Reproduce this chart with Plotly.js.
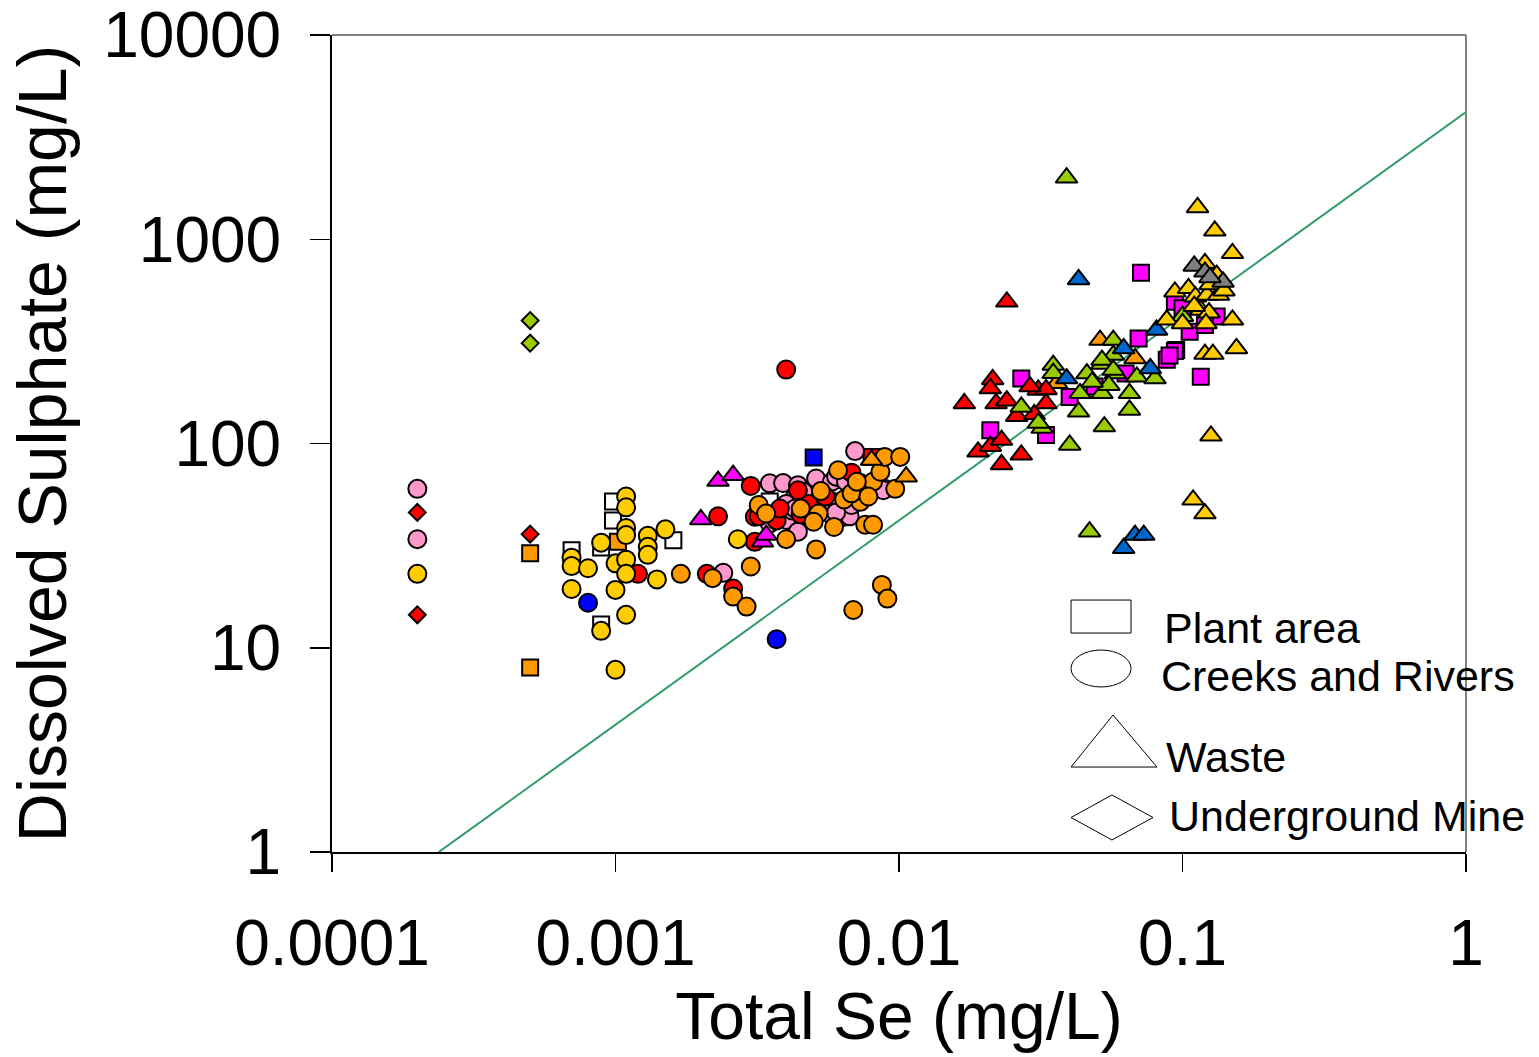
<!DOCTYPE html>
<html><head><meta charset="utf-8">
<script src="https://cdn.plot.ly/plotly-3.0.1.min.js"></script>
<style>html,body{margin:0;padding:0;background:#fff}</style>
</head><body><div id="chart" style="width:1539px;height:1057px"></div>
<script>
// ---- Axis ticks ----
const xTickVals = [0.0001, 0.001, 0.01, 0.1, 1];
const xTickText = ["0.0001", "0.001", "0.01", "0.1", "1"];
const yTickVals = [1, 10, 100, 1000, 10000];
const yTickText = ["1", "10", "100", "1000", "10000"];

// ---- Reference line ----
const refLineX = [0.000238, 1];
const refLineY = [1, 4200];

// ---- Plant area (squares) ----
const plantWhiteX = [0.0007, 0.00098, 0.00098, 0.00089, 0.0016, 0.00089, 0.0035];
const plantWhiteY = [30, 52, 42, 31, 33.6, 13, 52];
const plantOrangeX = [0.0005, 0.0005, 0.00102];
const plantOrangeY = [29, 8, 33];
const plantBlueX = [0.005];
const plantBlueY = [85.5];
const plantRedX = [0.008];
const plantRedY = [86];
const plantMagentaX = [0.0714, 0.07, 0.095, 0.094, 0.132, 0.106, 0.116, 0.094, 0.088, 0.033, 0.027, 0.021, 0.04, 0.063, 0.049, 0.1, 0.12, 0.09];
const plantMagentaY = [686, 327, 287, 494, 418, 352, 212, 284, 257, 110, 208, 116, 169, 220, 190, 460, 380, 270];

// ---- Creeks and Rivers (circles) ----
const creekPinkX = [0.0002, 0.0002, 0.0024, 0.0035, 0.0039, 0.0044, 0.0051, 0.0043, 0.004, 0.004, 0.0035, 0.0044, 0.0058, 0.0064, 0.0067, 0.0064, 0.0057, 0.0057, 0.0089, 0.0067, 0.007, 0.0068, 0.0046, 0.0042, 0.0075, 0.006, 0.0065, 0.0088, 0.0058, 0.006, 0.0043];
const creekPinkY = [60, 34, 23.3, 63.8, 64, 62.5, 67.4, 55, 50.6, 42.2, 40.6, 37, 65, 67, 54.8, 43.8, 45.4, 49, 60, 44, 91.8, 50, 58, 47, 60, 68.8, 65, 59, 52, 46, 48];
const creekRedX = [0.004, 0.003, 0.0023, 0.0031, 0.0031, 0.0012, 0.0021, 0.0026, 0.0048, 0.0044, 0.0037, 0.0068, 0.0045, 0.0032, 0.0038, 0.0055];
const creekRedY = [230, 62, 44, 33, 43.8, 23, 23, 19.5, 50.6, 59, 42, 72, 45, 44, 48, 55];
const creekYellowX = [0.0002, 0.00109, 0.00109, 0.00109, 0.00109, 0.0013, 0.0013, 0.0013, 0.0015, 0.00089, 0.0007, 0.0007, 0.0008, 0.001, 0.00109, 0.00109, 0.0014, 0.0007, 0.001, 0.00109, 0.00089, 0.001, 0.0027];
const creekYellowY = [23, 55, 48.7, 38.6, 35.6, 35.3, 31.2, 28.5, 38, 32.7, 27.6, 25.1, 24.5, 25.9, 27, 23, 21.6, 19.4, 19.2, 14.5, 12.1, 7.8, 34];
const creekOrangeX = [0.0061, 0.0073, 0.0081, 0.0086, 0.0097, 0.0053, 0.0073, 0.0064, 0.0052, 0.0059, 0.005, 0.0076, 0.0081, 0.0032, 0.0034, 0.004, 0.0051, 0.003, 0.0017, 0.0022, 0.0026, 0.0029, 0.0069, 0.0087, 0.0091, 0.0089, 0.0101, 0.0045, 0.0068, 0.0078, 0.0071];
const creekOrangeY = [74, 64, 65, 72.7, 60, 58.5, 51.8, 53.2, 45.4, 39, 41.4, 40, 40, 50, 45.4, 34, 30.3, 25, 23, 21.9, 17.8, 15.9, 15.3, 20.3, 17.4, 86, 86, 48, 57, 55, 65];
const creekBlueX = [0.0008, 0.0037];
const creekBlueY = [16.6, 11];

// ---- Waste (triangles) ----
const wasteMagentaX = [0.0023, 0.0026, 0.002, 0.0033, 0.0034];
const wasteMagentaY = [65.5, 70, 42.5, 33, 35.6];
const wasteOrangeX = [0.008, 0.0106, 0.0512, 0.068, 0.036];
const wasteOrangeY = [83, 68.8, 321, 261, 197];
const wasteRedX = [0.024, 0.017, 0.0214, 0.021, 0.022, 0.024, 0.026, 0.030, 0.031, 0.033, 0.033, 0.019, 0.021, 0.023, 0.023, 0.027, 0.029];
const wasteRedY = [494, 157, 206, 186, 157, 162, 136, 139, 183, 184, 157, 91, 97, 104, 79, 88, 190];
const wasteGreenX = [0.039, 0.047, 0.04, 0.053, 0.032, 0.027, 0.031, 0.035, 0.035, 0.0435, 0.043, 0.046, 0.052, 0.052, 0.058, 0.057, 0.057, 0.052, 0.057, 0.055, 0.069, 0.08, 0.065, 0.065, 0.048, 0.1];
const wasteGreenY = [2000, 37, 98.4, 121, 119, 151, 126, 242, 221, 176, 143, 220, 176, 245, 220, 321, 271, 256, 229, 193, 212, 208, 176, 146, 200, 420];
const wasteBlueX = [0.043, 0.081, 0.062, 0.068, 0.073, 0.039, 0.062, 0.077];
const wasteBlueY = [636, 360, 30.7, 35.6, 35.6, 208, 292, 233];
const wasteYellowX = [0.113, 0.13, 0.15, 0.12, 0.132, 0.094, 0.105, 0.111, 0.122, 0.134, 0.116, 0.124, 0.15, 0.088, 0.1, 0.121, 0.155, 0.12, 0.128, 0.126, 0.109, 0.12, 0.125, 0.14, 0.11];
const wasteYellowY = [1432, 1100, 853, 762, 668, 553, 575, 523, 533, 533, 450, 437, 403, 403, 387, 387, 292, 274, 274, 109, 53, 45.4, 600, 560, 470];
const wasteGrayX = [0.11, 0.12, 0.139, 0.125];
const wasteGrayY = [740, 693, 618, 650];

// ---- Underground Mine (diamonds) ----
const mineRedX = [0.0002, 0.0002, 0.0005];
const mineRedY = [46, 14.5, 36];
const mineGreenX = [0.0005, 0.0005];
const mineGreenY = [400, 310];

// ---- Legend labels ----
const legendLabels = ["Plant area", "Creeks and Rivers", "Waste", "Underground Mine"];

const FONT = "Liberation Sans, Arial, sans-serif";

function pts(x, y, symbol, color, size) {
  return {
    type: "scatter", mode: "markers", x: x, y: y, showlegend: false, hoverinfo: "x+y",
    cliponaxis: false,
    marker: { symbol: symbol, color: color, size: size, line: { color: "#000", width: 2 } }
  };
}

const SQ = 16, CI = 18, TR = 19, DI = 13;
const traces = [
  { type: "scatter", mode: "lines", x: refLineX, y: refLineY, showlegend: false,
    line: { color: "#2E9B68", width: 2 }, hoverinfo: "skip" },
  pts(plantWhiteX, plantWhiteY, "square", "#FFFFFF", SQ),
  pts(plantOrangeX, plantOrangeY, "square", "#FF9900", SQ),
  pts(plantBlueX, plantBlueY, "square", "#0000FF", SQ),
  pts(plantRedX, plantRedY, "square", "#FF0000", SQ),
  pts(plantMagentaX, plantMagentaY, "square", "#FF00FF", SQ),
  pts(creekPinkX, creekPinkY, "circle", "#FF99CC", CI),
  pts(creekRedX, creekRedY, "circle", "#FF0000", CI),
  pts(creekYellowX, creekYellowY, "circle", "#FFCC00", CI),
  pts(creekOrangeX, creekOrangeY, "circle", "#FF9900", CI),
  pts(creekBlueX, creekBlueY, "circle", "#0000FF", CI),
  pts(wasteMagentaX, wasteMagentaY, "triangle-up", "#FF00FF", TR),
  pts(wasteOrangeX, wasteOrangeY, "triangle-up", "#FF9900", TR),
  pts(wasteRedX, wasteRedY, "triangle-up", "#FF0000", TR),
  pts(wasteGreenX, wasteGreenY, "triangle-up", "#99CC00", TR),
  pts(wasteBlueX, wasteBlueY, "triangle-up", "#0066CC", TR),
  pts(wasteYellowX, wasteYellowY, "triangle-up", "#FFCC00", TR),
  pts(wasteGrayX, wasteGrayY, "triangle-up", "#808080", TR),
  pts(mineRedX, mineRedY, "diamond", "#FF0000", DI),
  pts(mineGreenX, mineGreenY, "diamond", "#99CC00", DI)
];

const legendShapes = [
  { type: "rect", xref: "paper", yref: "paper", x0: 0.6517, x1: 0.7046, y0: 0.268, y1: 0.3084, line: { color: "#000", width: 1 }, fillcolor: "rgba(0,0,0,0)" },
  { type: "circle", xref: "paper", yref: "paper", x0: 0.6517, x1: 0.7046, y0: 0.202, y1: 0.2472, line: { color: "#000", width: 1 }, fillcolor: "rgba(0,0,0,0)" },
  { type: "path", xref: "paper", yref: "paper", path: "M 0.6517 0.104 L 0.6887 0.1677 L 0.7275 0.104 Z", line: { color: "#000", width: 1 } },
  { type: "path", xref: "paper", yref: "paper", path: "M 0.6517 0.0422 L 0.6878 0.0698 L 0.7240 0.0422 L 0.6878 0.0147 Z", line: { color: "#000", width: 1 } },
  { type: "line", xref: "paper", yref: "paper", x0: 0, x1: 1, y0: 1, y1: 1, line: { color: "#808080", width: 2 } },
  { type: "line", xref: "paper", yref: "paper", x0: 1, x1: 1, y0: 0, y1: 1, line: { color: "#808080", width: 2 }, layer: "above" }
];

const legendPos = [[0.732, 0.2742], [0.7293, 0.2154], [0.7337, 0.1163], [0.7364, 0.0441]];
const annotations = legendLabels.map((t, i) => ({
  text: t, xref: "paper", yref: "paper", x: legendPos[i][0], y: legendPos[i][1],
  xanchor: "left", yanchor: "middle", showarrow: false,
  font: { family: FONT, size: 43, color: "#000" }
}));

const layout = {
  width: 1539, height: 1057,
  margin: { l: 332, r: 73, t: 35, b: 205 },
  paper_bgcolor: "#fff", plot_bgcolor: "#fff",
  font: { family: FONT, color: "#000" },
  xaxis: {
    type: "log", range: [-4, 0], tickmode: "array", tickvals: xTickVals, ticktext: xTickText,
    showgrid: false, zeroline: false, showline: true, linecolor: "#000", linewidth: 2,
    ticks: "outside", ticklen: 18, tickwidth: 1.5, tickcolor: "#000",
    tickfont: { family: FONT, size: 64, color: "#000" }, ticklabelstandoff: 16,
    ticklabeloverflow: "allow",
    title: { text: "Total Se (mg/L)", font: { family: FONT, size: 66, color: "#000" }, standoff: 14 }
  },
  yaxis: {
    type: "log", range: [0, 4], tickmode: "array", tickvals: yTickVals, ticktext: yTickText,
    showgrid: false, zeroline: false, showline: true, linecolor: "#000", linewidth: 2,
    ticks: "outside", ticklen: 20, tickwidth: 1.5, tickcolor: "#000",
    tickfont: { family: FONT, size: 64, color: "#000" }, ticklabelstandoff: 16,
    ticklabeloverflow: "allow",
    title: { text: "Dissolved Sulphate (mg/L)", font: { family: FONT, size: 68, color: "#000" }, standoff: 14 }
  },
  shapes: legendShapes,
  annotations: annotations,
  showlegend: false
};

Plotly.newPlot("chart", traces, layout, { displayModeBar: false, staticPlot: true });
</script>
</body></html>
